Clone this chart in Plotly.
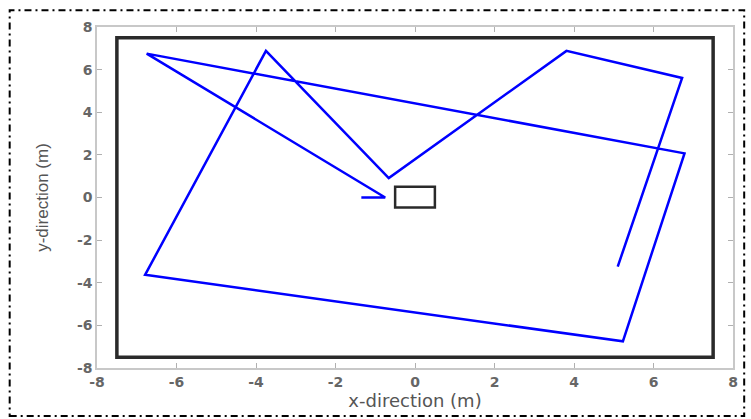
import plotly.graph_objects as go

# Robot path (m)
path_x = [-1.35, -0.75, -6.75, 6.78, 5.23, -6.79, -3.75, -0.66, 3.81, 6.72, 5.10]
path_y = [0.00, 0.00, 6.75, 2.07, -6.75, -3.63, 6.88, 0.91, 6.88, 5.61, -3.24]

# Room walls and obstacle (m): [x0, x1], [y0, y1]
wall_x = [-7.5, 7.5]
wall_y = [-7.5, 7.5]
obst_x = [-0.5, 0.5]
obst_y = [-0.47, 0.5]

ticks = [-8, -6, -4, -2, 0, 2, 4, 6, 8]

fig = go.Figure()
fig.add_trace(go.Scatter(x=path_x, y=path_y, mode="lines",
                         line=dict(color="#0000ff", width=2.5)))

fig.add_shape(type="rect", xref="x", yref="y",
              x0=wall_x[0], x1=wall_x[1], y0=wall_y[0], y1=wall_y[1],
              line=dict(color="#2a2a2a", width=3.5), layer="below")
fig.add_shape(type="rect", xref="x", yref="y",
              x0=obst_x[0], x1=obst_x[1], y0=obst_y[0], y1=obst_y[1],
              line=dict(color="#2a2a2a", width=2.5), layer="below")

L, R, T, B = 96.7, 17.7, 26.7, 50.7
W, H = 751, 419
pw, ph = W - L - R, H - T - B

def px2paper_x(px):
    return (px - L) / pw

def px2paper_y(py):
    return (H - B - py) / ph

fig.add_shape(type="rect", xref="paper", yref="paper",
              x0=px2paper_x(9.3), x1=px2paper_x(744.5),
              y0=px2paper_y(416.5), y1=px2paper_y(10),
              line=dict(color="black", width=2, dash="7px,4px,2px,4px"))

axis_common = dict(
    tickvals=ticks, ticktext=[str(t) for t in ticks],
    range=[-8, 8], showgrid=False, zeroline=False,
    showline=True, linecolor="#c8c8c8", linewidth=1.5,
    mirror="ticks", ticks="inside", ticklen=5, tickcolor="#b0b0b0",
    tickfont=dict(family="DejaVu Sans", size=14, color="#666666", weight="bold"),
)

fig.update_layout(
    width=W, height=H,
    margin=dict(l=L, r=R, t=T, b=B),
    paper_bgcolor="white", plot_bgcolor="white",
    showlegend=False,
    xaxis=dict(**axis_common,
               title=dict(text="x-direction (m)", standoff=0,
                          font=dict(family="DejaVu Sans", size=18, color="#555555"))),
    yaxis=dict(**axis_common,
               title=dict(text="y-direction (m)", standoff=24,
                          font=dict(family="Liberation Sans, Arial", size=17, color="#555555"))),
)

fig.write_html("out.html", config={"displayModeBar": False},
               post_script="document.body.style.margin='0';")
